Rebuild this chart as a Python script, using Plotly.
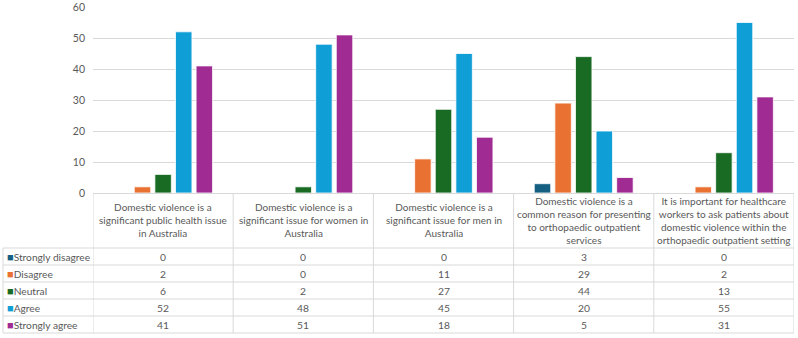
import plotly.graph_objects as go

W, H = 798, 338

categories = [
    "Domestic violence is a<br>significant public health issue<br>in Australia",
    "Domestic violence is a<br>significant issue for women in<br>Australia",
    "Domestic violence is a<br>significant issue for men in<br>Australia",
    "Domestic violence is a<br>common reason for presenting<br>to orthopaedic outpatient<br>services",
    "It is important for healthcare<br>workers to ask patients about<br>domestic violence within the<br>orthopaedic outpatient setting",
]
series_names = ["Strongly disagree", "Disagree", "Neutral", "Agree", "Strongly agree"]
strongly_disagree = [0, 0, 0, 3, 0]
disagree = [2, 0, 11, 29, 2]
neutral = [6, 2, 27, 44, 13]
agree = [52, 48, 45, 20, 55]
strongly_agree = [41, 51, 18, 5, 31]
series_values = [strongly_disagree, disagree, neutral, agree, strongly_agree]
colors = ["#156082", "#E97132", "#196B24", "#0F9ED5", "#A02B93"]
y_ticks = [0, 10, 20, 30, 40, 50, 60]

FONT = "Lato"
FS = 10
TXT = "#595959"
LINE = "#D9D9D9"

# pixel layout
plot_left, plot_right = 93, 794
plot_top, plot_bottom = 7, 193
header_bottom = 248
row_h = 17
table_left = 3

def py(p):
    return 1 - p / H

def px(p):
    return p / W

xs = list(range(len(categories)))

fig = go.Figure()
for name, vals, col in zip(series_names, series_values, colors):
    fig.add_trace(go.Bar(
        x=xs, y=vals, name=name, marker=dict(color=col, line=dict(color="white", width=0.8)),
        showlegend=False, hoverinfo="y+name",
    ))

shapes = []
annotations = []

for k in range(len(categories) + 1):
    shapes.append(dict(type="line", xref="x", yref="paper", x0=k - 0.5, x1=k - 0.5,
                       y0=py(plot_bottom), y1=py(header_bottom + row_h * len(series_names)),
                       line=dict(color=LINE, width=1)))
shapes.append(dict(type="line", xref="paper", yref="paper", x0=px(table_left), x1=px(table_left),
                   y0=py(header_bottom), y1=py(header_bottom + row_h * len(series_names)),
                   line=dict(color=LINE, width=1)))
for r in range(len(series_names) + 1):
    yy = py(header_bottom + r * row_h)
    shapes.append(dict(type="line", xref="paper", yref="paper", x0=px(table_left), x1=px(plot_right),
                       y0=yy, y1=yy, line=dict(color=LINE, width=1)))

for i, c in enumerate(categories):
    annotations.append(dict(x=i, y=py((plot_bottom + header_bottom) / 2), xref="x", yref="paper",
                            text=c, showarrow=False, xanchor="center", yanchor="middle",
                            font=dict(family=FONT, size=FS, color=TXT), align="center"))

for r, (name, vals, col) in enumerate(zip(series_names, series_values, colors)):
    yc = py(header_bottom + r * row_h + row_h / 2)
    annotations.append(dict(x=px(table_left + 2), y=yc, xref="paper", yref="paper",
                            text=f"<span style='color:{col};font-size:11px'>■</span>{name}",
                            showarrow=False, xanchor="left", yanchor="middle",
                            font=dict(family=FONT, size=FS + 0.2, color=TXT)))
    for i, v in enumerate(vals):
        annotations.append(dict(x=i, y=yc, xref="x", yref="paper", text=str(v),
                                showarrow=False, xanchor="center", yanchor="middle",
                                font=dict(family=FONT, size=FS + 0.3, color=TXT)))

fig.update_layout(
    template="none",
    width=W, height=H, margin=dict(l=0, r=0, t=0, b=0, pad=0), autosize=False,
    paper_bgcolor="white", plot_bgcolor="white",
    barmode="group", bargap=0.265, bargroupgap=0.2,
    font=dict(family=FONT, size=11, color=TXT),
    xaxis=dict(domain=[px(plot_left), px(plot_right)], range=[-0.5, len(categories) - 0.5],
               showticklabels=False, showgrid=False, zeroline=False, showline=False,
               ticks="", automargin=False, fixedrange=True),
    yaxis=dict(domain=[py(plot_bottom), py(plot_top)], range=[0, 60], tickvals=y_ticks,
               showgrid=True, gridcolor=LINE, gridwidth=1, zeroline=True, zerolinecolor=LINE,
               zerolinewidth=1, showline=False, ticks="", automargin=False,
               ticklabeloverflow="allow", tickfont=dict(family=FONT, size=10.5, color=TXT),
               ticklabelstandoff=7, fixedrange=True),
    shapes=shapes, annotations=annotations,
)

fig.write_html(
    "out.html",
    config={"displayModeBar": False},
    post_script="document.body.style.margin='0px';document.body.style.overflow='hidden';",
)
